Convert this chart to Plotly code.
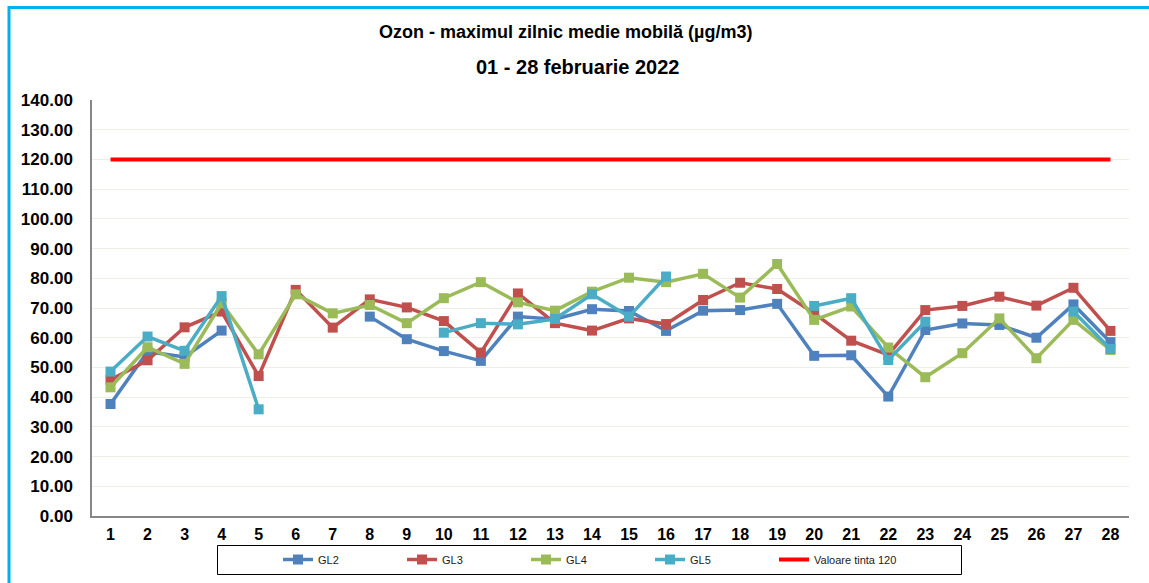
import plotly.graph_objects as go

days = list(range(1, 29))
day_labels = [str(d) for d in days]

gl2 = [37.7, 55.3, 53.5, 62.4, None, None, None, 67.1, 59.5, 55.5, 52.2, 67.1, 66.2, 69.6,
       69.0, 62.3, 69.1, 69.3, 71.4, 53.9, 54.1, 40.2, 62.6, 64.8, 64.3, 60.0, 71.2, 58.5]
gl3 = [45.8, 52.4, 63.5, 68.8, 47.1, 76.1, 63.4, 72.9, 70.2, 65.6, 55.0, 74.9, 64.9, 62.4,
       66.5, 64.6, 72.7, 78.5, 76.4, 68.2, 59.0, 54.2, 69.3, 70.7, 73.8, 70.8, 76.8, 62.3]
gl4 = [43.3, 56.8, 51.2, 71.6, 54.4, 74.6, 68.2, 71.0, 64.9, 73.3, 78.7, 71.9, 69.1, 75.5,
       80.2, 78.7, 81.5, 73.5, 84.8, 66.0, 70.5, 56.7, 46.7, 54.8, 66.5, 53.1, 66.0, 55.9]
gl5 = [48.6, 60.4, 55.6, 74.0, 35.9, None, None, None, None, 61.7, 64.9, 64.5, 66.3, 74.6,
       67.1, 80.6, None, None, None, 70.7, 73.3, 52.5, 65.4, None, None, None, 68.8, 56.2]
target_value = 120
target = [target_value for _ in days]

series_names = ["GL2", "GL3", "GL4", "GL5"]
series_values = [gl2, gl3, gl4, gl5]
series_colors = ["#4F81BD", "#C0504D", "#9BBB59", "#4BACC6"]

W, H = 1149, 583
L, R, T, B = 92, 20, 100, 67
PW, PH = W - L - R, H - T - B


def px_x(px):
    return (px - L) / PW


def px_y(py):
    return (H - B - py) / PH


FONT = "Arial, Liberation Sans, sans-serif"

fig = go.Figure()
for name, vals, col in zip(series_names, series_values, series_colors):
    fig.add_trace(go.Scatter(
        x=days, y=vals, name=name, mode="lines+markers",
        line=dict(color=col, width=3.5),
        marker=dict(symbol="square", size=10, color=col),
        connectgaps=False,
    ))
fig.add_trace(go.Scatter(
    x=days, y=target, name="Valoare tinta 120", mode="lines",
    line=dict(color="#FF0000", width=4),
))

fig.update_layout(
    width=W, height=H, autosize=False,
    margin=dict(l=L, r=R, t=T, b=B, autoexpand=False),
    paper_bgcolor="white", plot_bgcolor="white",
    font=dict(family=FONT, color="#000000"),
    showlegend=True,
    legend=dict(
        orientation="h", x=px_x(278), xanchor="left", y=px_y(545), yanchor="top",
        entrywidth=79, entrywidthmode="pixels",
        font=dict(family=FONT, size=11, color="#1a1a1a"),
        bgcolor="rgba(0,0,0,0)", borderwidth=0,
        itemclick=False,
    ),
    xaxis=dict(
        range=[0.5, 28.5], tickmode="array", tickvals=days, ticktext=day_labels,
        showgrid=False, zeroline=False, showline=True, linecolor="#868686", linewidth=1.5,
        ticks="", tickfont=dict(family=FONT, size=16, color="#000000", weight="bold"),
        ticklabelstandoff=3, automargin=False,
    ),
    yaxis=dict(
        range=[0, 140], dtick=10, tickformat=".2f",
        showgrid=True, gridcolor="#EEEDE6", gridwidth=1,
        zeroline=False, showline=True, linecolor="#868686", linewidth=1.5,
        ticks="", tickfont=dict(family=FONT, size=17, color="#000000", weight="bold"),
        ticklabelstandoff=14, automargin=False,
    ),
    annotations=[
        dict(text="Ozon - maximul zilnic medie mobilă (µg/m3)", xref="paper", yref="paper",
             x=px_x(565), y=px_y(32), xanchor="center", yanchor="middle", showarrow=False,
             font=dict(family=FONT, size=18, color="#000000", weight="bold")),
        dict(text="01 - 28 februarie 2022", xref="paper", yref="paper",
             x=px_x(577), y=px_y(67), xanchor="center", yanchor="middle", showarrow=False,
             font=dict(family=FONT, size=20, color="#000000", weight="bold")),
    ],
    shapes=[
        dict(type="line", xref="paper", yref="paper", x0=px_x(8), x1=px_x(1149),
             y0=px_y(7.5), y1=px_y(7.5), line=dict(color="#00B0F0", width=3)),
        dict(type="line", xref="paper", yref="paper", x0=px_x(9), x1=px_x(9),
             y0=px_y(6), y1=px_y(583), line=dict(color="#00B0F0", width=3)),
        dict(type="rect", xref="paper", yref="paper", x0=px_x(217.5), x1=px_x(961.5),
             y0=px_y(545.5), y1=px_y(574.5), line=dict(color="#000000", width=1),
             fillcolor="rgba(0,0,0,0)"),
    ],
)

fig.write_html("out.html", config={"displayModeBar": False},
               post_script="document.body.style.margin='0';")
